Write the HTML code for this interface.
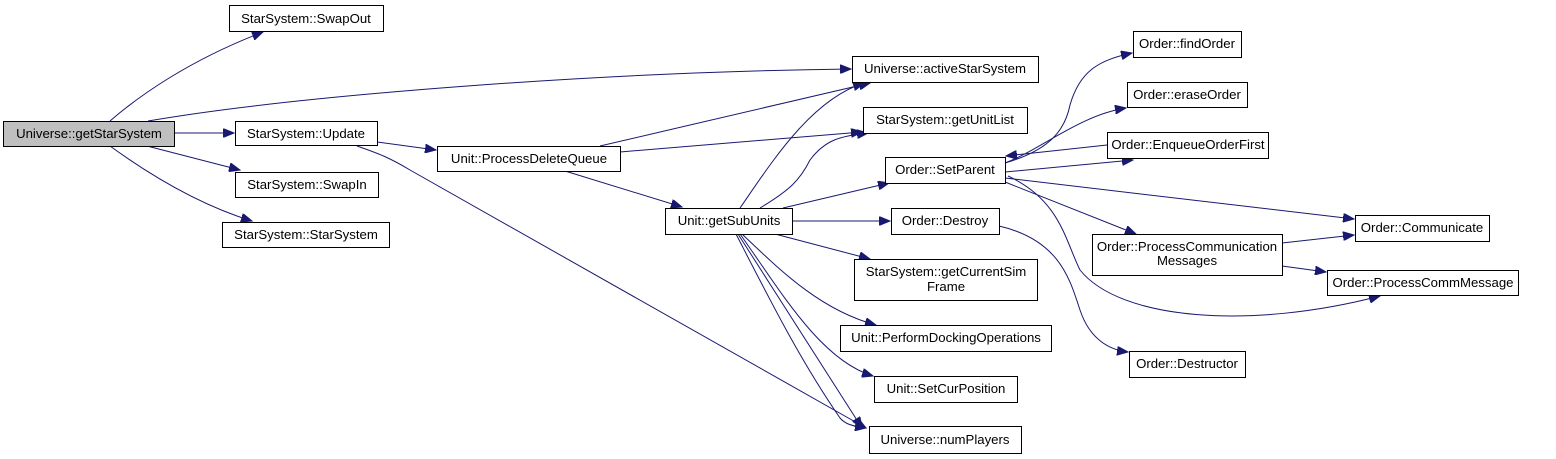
<!DOCTYPE html>
<html><head><meta charset="utf-8"><style>
html,body{margin:0;padding:0;background:#fff;}
svg{display:block;}
text{font-family:"Liberation Sans",Arial,sans-serif;font-size:13.2px;fill:#000;}
</style></head><body>
<svg width="1556" height="459" viewBox="0 0 1556 459" xmlns="http://www.w3.org/2000/svg">
<defs>
<marker id="a" markerWidth="12" markerHeight="9" refX="11" refY="4.5" orient="auto" markerUnits="userSpaceOnUse">
<path d="M0,0 L11,4.5 L0,9 Z" fill="#191970" stroke="#191970"/>
</marker>
</defs>
<g fill="none" stroke="#191970" stroke-width="1" marker-end="url(#a)">
<path d="M110,121 C140,95 190,60 263,32"/>
<path d="M148,121 C300,95 600,72 851,69"/>
<path d="M174,133 L234,133"/>
<path d="M147,146 L240,170"/>
<path d="M110,146 C150,175 200,205 252,221"/>
<path d="M377,142 L436,150"/>
<path d="M357,146 C380,154 390,158 410,170 L866,428"/>
<path d="M600,146 L870,83"/>
<path d="M620,152 L862,132"/>
<path d="M565,171 L682,207"/>
<path d="M740,208 C770,165 810,100 864,83"/>
<path d="M760,208 C790,190 800,180 810,160 C825,140 840,136 868,133"/>
<path d="M783,208 L889,183"/>
<path d="M792,221 L890,221"/>
<path d="M775,234 L870,259"/>
<path d="M742,234 C780,270 820,310 876,325"/>
<path d="M740,234 C780,290 820,360 873,376"/>
<path d="M736,234 C770,300 800,360 840,418 C845,424 852,426 866,428"/>
<path d="M738,234 L862,428"/>
<path d="M1005,163 C1050,150 1065,130 1070,105 C1080,70 1100,60 1132,53"/>
<path d="M1005,163 C1040,150 1080,115 1126,108"/>
<path d="M1107,145 L1006,156"/>
<path d="M1005,172 L1133,160"/>
<path d="M1005,178 L1354,219"/>
<path d="M1005,182 L1136,234"/>
<path d="M1008,176 C1060,200 1065,240 1080,270 C1120,320 1250,330 1380,296"/>
<path d="M1282,243 L1354,235"/>
<path d="M1282,266 L1326,272"/>
<path d="M999,226 C1060,240 1070,280 1080,310 C1090,340 1110,350 1128,352"/>
</g>
<g stroke="#000" stroke-width="1" fill="#fff">
<rect x="3.5" y="121.5" width="171" height="25" fill="#bfbfbf"/>
<rect x="229.5" y="5.5" width="154" height="26"/>
<rect x="235.5" y="121.5" width="142" height="24"/>
<rect x="235.5" y="172.5" width="143" height="25"/>
<rect x="222.5" y="222.5" width="167" height="25"/>
<rect x="437.5" y="146.5" width="183" height="25"/>
<rect x="852.5" y="56.5" width="186" height="26"/>
<rect x="863.5" y="107.5" width="164" height="26"/>
<rect x="885.5" y="157.5" width="120" height="26"/>
<rect x="665.5" y="208.5" width="127" height="26"/>
<rect x="891.5" y="208.5" width="108" height="26"/>
<rect x="854.5" y="259.5" width="183" height="41"/>
<rect x="840.5" y="325.5" width="211" height="26"/>
<rect x="874.5" y="376.5" width="143" height="26"/>
<rect x="869.5" y="426.5" width="152" height="27"/>
<rect x="1133.5" y="31.5" width="108" height="26"/>
<rect x="1127.5" y="82.5" width="120" height="25"/>
<rect x="1107.5" y="132.5" width="161" height="26"/>
<rect x="1355.5" y="215.5" width="134" height="26"/>
<rect x="1092.5" y="234.5" width="190" height="41"/>
<rect x="1327.5" y="270.5" width="191" height="25"/>
<rect x="1129.5" y="351.5" width="116" height="26"/>
</g>
<g text-anchor="middle">
<text x="89" y="138">Universe::getStarSystem</text>
<text x="306" y="23">StarSystem::SwapOut</text>
<text x="306" y="138">StarSystem::Update</text>
<text x="307" y="189">StarSystem::SwapIn</text>
<text x="306" y="239">StarSystem::StarSystem</text>
<text x="529" y="163">Unit::ProcessDeleteQueue</text>
<text x="945" y="73">Universe::activeStarSystem</text>
<text x="945" y="124">StarSystem::getUnitList</text>
<text x="945" y="174">Order::SetParent</text>
<text x="729" y="225">Unit::getSubUnits</text>
<text x="945" y="225">Order::Destroy</text>
<text x="946" y="276">StarSystem::getCurrentSim</text>
<text x="946" y="291">Frame</text>
<text x="946" y="342">Unit::PerformDockingOperations</text>
<text x="946" y="393">Unit::SetCurPosition</text>
<text x="945" y="444">Universe::numPlayers</text>
<text x="1187" y="48">Order::findOrder</text>
<text x="1187" y="99">Order::eraseOrder</text>
<text x="1188" y="149">Order::EnqueueOrderFirst</text>
<text x="1422" y="232">Order::Communicate</text>
<text x="1187" y="251">Order::ProcessCommunication</text>
<text x="1187" y="265">Messages</text>
<text x="1423" y="287">Order::ProcessCommMessage</text>
<text x="1187" y="368">Order::Destructor</text>
</g>
</svg>
</body></html>
